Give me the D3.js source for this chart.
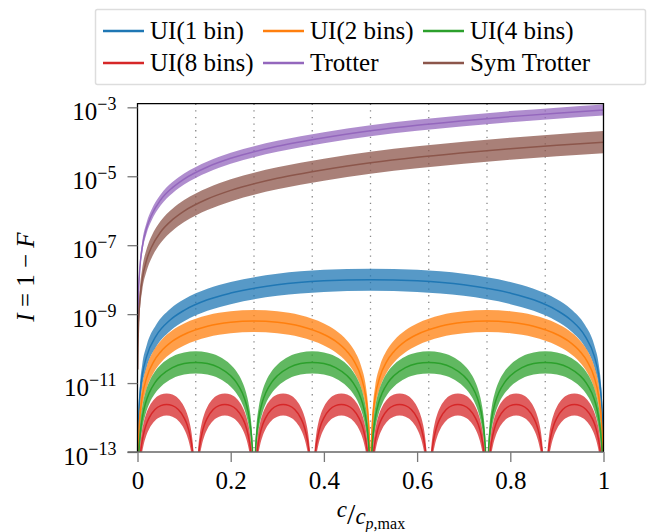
<!DOCTYPE html>
<html>
<head>
<meta charset="utf-8">
<script src="https://cdn.jsdelivr.net/npm/d3@7"></script>
<style>
  body { margin: 0; background: #fff; }
  text { font-family: "Liberation Serif", "DejaVu Serif", serif; fill: #000; }
</style>
</head>
<body>
<div id="canvas"></div>
<script>
// c positions where the Trotter curves were read (log10 of I)
const cGrid = [0.0005, 0.001, 0.002, 0.005, 0.01, 0.02, 0.03, 0.05, 0.075, 0.1,
  0.15, 0.2, 0.3, 0.4, 0.5, 0.6, 0.7, 0.8, 0.9, 1.0];
const trotterLog = [-9.68, -9.08, -8.48, -7.68, -7.08, -6.48, -6.13, -5.68, -5.33, -5.08,
  -4.73, -4.48, -4.13, -3.88, -3.68, -3.52, -3.39, -3.27, -3.17, -3.08];
const symTrotterLog = [-10.61, -10.01, -9.41, -8.61, -8.01, -7.41, -7.06, -6.61, -6.26, -6.01,
  -5.66, -5.41, -5.06, -4.81, -4.61, -4.45, -4.32, -4.20, -4.10, -4.01];

// one arch inside a bin: position in bin (0..0.5) and log10 offset from the peak
const archPos = [0.0005, 0.001, 0.002, 0.005, 0.01, 0.02, 0.04, 0.07, 0.1, 0.15, 0.2, 0.3, 0.4, 0.5];
const archShape = [-5.4, -4.8, -4.2, -3.4, -2.8, -2.21, -1.63, -1.17, -0.89, -0.585, -0.39, -0.15, -0.035, 0];

// UI series: bins and peak log10(I)
const uiBins = [1, 2, 4, 8];
const uiPeakLog = [-8.0, -9.2, -10.4, -11.62];

// band half widths in decades
const uiSpread = 0.32;
const trotterSpread = 0.16;
const symTrotterSpread = 0.32;

const seriesNames = ["UI(1 bin)", "UI(2 bins)", "UI(4 bins)", "UI(8 bins)", "Trotter", "Sym Trotter"];
const colors = ["#1f77b4", "#ff7f0e", "#2ca02c", "#d62728", "#9467bd", "#8c564b"];

const xTicks = [0, 0.2, 0.4, 0.6, 0.8, 1];
const xTickLabels = ["0", "0.2", "0.4", "0.6", "0.8", "1"];
const yTickExp = [-13, -11, -9, -7, -5, -3];
const binLines = [0.125, 0.25, 0.375, 0.5, 0.625, 0.75, 0.875];

const width = 663;
const height = 532;
const pLeft = 137.5, pRight = 603.5, pTop = 103.7, pBottom = 452;

const svg = d3.select("#canvas").append("svg")
  .attr("width", width)
  .attr("height", height);

const x = d3.scaleLinear().domain([0, 1]).range([pLeft, pRight]);
const y = d3.scaleLog().domain([1e-13, Math.pow(10, -2.895)]).range([pBottom, pTop]);

svg.append("clipPath").attr("id", "clip")
  .append("rect").attr("x", pLeft).attr("y", pTop)
  .attr("width", pRight - pLeft).attr("height", pBottom - pTop);

// dotted bin boundaries
svg.append("g").selectAll("line").data(binLines).enter().append("line")
  .attr("x1", d => x(d)).attr("x2", d => x(d))
  .attr("y1", pTop).attr("y2", pBottom)
  .attr("stroke", "#888").attr("stroke-width", 1.3)
  .attr("stroke-dasharray", "1.3,5.3");

const plot = svg.append("g").attr("clip-path", "url(#clip)");

const area = d3.area()
  .x(d => x(d.c))
  .y0(d => y(Math.pow(10, d.v - d.s)))
  .y1(d => y(Math.pow(10, d.v + d.s)))
  .curve(d3.curveMonotoneX);
const line = d3.line()
  .x(d => x(d.c))
  .y(d => y(Math.pow(10, d.v)))
  .curve(d3.curveMonotoneX);

const drawSeries = (pts, color) => {
  plot.append("path").datum(pts)
    .attr("d", area).attr("fill", color).attr("fill-opacity", 0.75);
  plot.append("path").datum(pts)
    .attr("d", line).attr("fill", "none")
    .attr("stroke", color).attr("stroke-width", 1.5);
};

// UI arches
uiBins.forEach((n, i) => {
  for (let k = 0; k < n; k++) {
    const pts = [];
    archPos.forEach((u, j) => pts.push({ c: (k + u) / n, v: uiPeakLog[i] + archShape[j], s: uiSpread }));
    for (let j = archPos.length - 2; j >= 0; j--) {
      pts.push({ c: (k + 1 - archPos[j]) / n, v: uiPeakLog[i] + archShape[j], s: uiSpread });
    }
    drawSeries(pts, colors[i]);
  }
});

drawSeries(cGrid.map((c, j) => ({ c: c, v: trotterLog[j], s: trotterSpread })), colors[4]);
drawSeries(cGrid.map((c, j) => ({ c: c, v: symTrotterLog[j], s: symTrotterSpread })), colors[5]);

// spines
svg.append("path")
  .attr("d", `M${pLeft},${pBottom}V${pTop}H${pRight}V${pBottom}`)
  .attr("fill", "none").attr("stroke", "#000").attr("stroke-width", 1.3);

// axes
const yAxis = svg.append("g")
  .attr("transform", `translate(${pLeft},0)`)
  .call(d3.axisLeft(y).tickValues(yTickExp.map(e => Math.pow(10, e))).tickSize(10).tickFormat(""));
yAxis.select(".domain").remove();
yAxis.selectAll(".tick line").attr("stroke", "#777").attr("stroke-width", 1.3);
yAxis.selectAll(".tick").append("text")
  .attr("x", -21).attr("y", 12)
  .attr("text-anchor", "end")
  .style("font-size", "25px")
  .each(function (d) {
    const t = d3.select(this);
    t.append("tspan").text("10");
    t.append("tspan").attr("dy", -10).style("font-size", "18px")
      .text("\u2212" + Math.round(-Math.log10(d)));
  });

const xAxis = svg.append("g")
  .attr("transform", `translate(0,${pBottom})`)
  .call(d3.axisBottom(x).tickValues(xTicks).tickSize(10).tickFormat((d, i) => xTickLabels[i]));
xAxis.select(".domain").attr("stroke", "#666").attr("stroke-width", 1.6)
  .attr("d", `M${pLeft - 10},0H${pRight}`);
xAxis.selectAll(".tick line").attr("stroke", "#777").attr("stroke-width", 1.3);
xAxis.selectAll(".tick text").attr("y", 37).attr("dy", null)
  .style("font-size", "25px").style("font-family", "Liberation Serif");

// axis labels
const yl = svg.append("text")
  .attr("transform", "translate(34,277) rotate(-90)")
  .attr("text-anchor", "middle")
  .style("font-size", "25px");
yl.append("tspan").style("font-style", "italic").text("I");
yl.append("tspan").text(" = 1 \u2212 ");
yl.append("tspan").style("font-style", "italic").text("F");

const xl = svg.append("text")
  .attr("x", 371).attr("y", 524)
  .attr("text-anchor", "middle")
  .style("font-size", "23px");
xl.append("tspan").style("font-style", "italic").attr("dy", -7).text("c");
xl.append("tspan").attr("dy", 7).style("font-size", "30px").text("/");
xl.append("tspan").style("font-style", "italic").text("c");
xl.append("tspan").attr("dy", 5).style("font-size", "16px").style("font-style", "italic").text("p");
xl.append("tspan").style("font-size", "16px").text(",max");

// legend
const legend = svg.append("g");
legend.append("rect")
  .attr("x", 95.5).attr("y", 9.5).attr("width", 550).attr("height", 75)
  .attr("rx", 2).attr("fill", "#fff").attr("stroke", "#ddd").attr("stroke-width", 1.5);
const colX = [103, 263, 423];
const rowY = [31, 63];
seriesNames.forEach((name, i) => {
  const cx = colX[i % 3], cy = rowY[Math.floor(i / 3)];
  legend.append("line")
    .attr("x1", cx).attr("x2", cx + 41).attr("y1", cy).attr("y2", cy)
    .attr("stroke", colors[i]).attr("stroke-width", 2.5);
  legend.append("text")
    .attr("x", cx + 47).attr("y", cy + 8)
    .style("font-size", "25px")
    .text(name);
});
</script>
</body>
</html>
